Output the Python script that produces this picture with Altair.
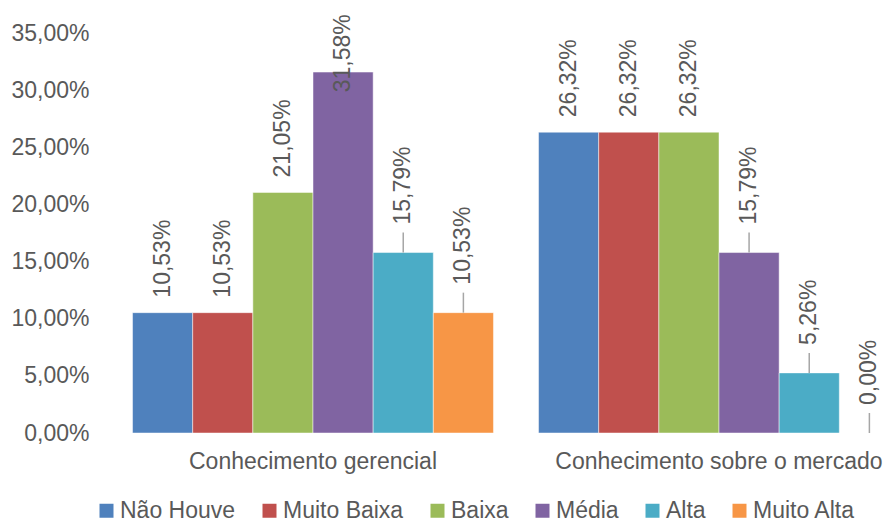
import altair as alt
import pandas as pd

# Survey results: share of respondents per level, for two knowledge areas
grupos = ["Conhecimento gerencial", "Conhecimento sobre o mercado"]
niveis = ["Não Houve", "Muito Baixa", "Baixa", "Média", "Alta", "Muito Alta"]
gerencial = [0.1053, 0.1053, 0.2105, 0.3158, 0.1579, 0.1053]
mercado = [0.2632, 0.2632, 0.2632, 0.1579, 0.0526, 0.0000]
cores = ["#4F81BD", "#C0504D", "#9BBB59", "#8064A2", "#4BACC6", "#F79646"]
y_ticks = [0.0, 0.05, 0.10, 0.15, 0.20, 0.25, 0.30, 0.35]

rows = []
for grupo, valores in zip(grupos, [gerencial, mercado]):
    for i, (nivel, v) in enumerate(zip(niveis, valores)):
        rows.append({"grupo": grupo, "nivel": nivel, "ordem": i, "valor": v})
df = pd.DataFrame(rows)

FONT = "Liberation Sans"
FS = 23
GRAY = "#595959"
PLOT_W = 783
PLOT_H = 400
BAND_RANGE = 812  # the category band runs a little past the right edge

x_enc = alt.X(
    "grupo:N",
    sort=grupos,
    scale=alt.Scale(range=[0, BAND_RANGE], paddingInner=0.111, paddingOuter=0.0555),
    axis=alt.Axis(
        title=None, labelAngle=0, domain=False, ticks=False, grid=False, labelFont=FONT,
        labelFontSize=FS, labelColor=GRAY, labelPadding=17, labelLimit=1000,
    ),
)
xoff_enc = alt.XOffset("nivel:N", sort=niveis, scale=alt.Scale(paddingInner=0, paddingOuter=0))
y_scale = alt.Scale(domain=[0, 0.35], nice=False)

base = alt.Chart(df).transform_window(
    anterior="lag(valor)", groupby=["grupo"], sort=[alt.SortField("ordem")]
).transform_calculate(
    rotulo="replace(format(datum.valor, '.2%'), '.', ',')",
    guia="isValid(datum.anterior) && datum.valor < datum.anterior",
    # keep tall labels from running off the top edge
    pos="min(datum.valor, 0.285)",
    guia_fim="datum.valor + 0.0175",
)

bars = base.mark_bar(stroke="white", strokeWidth=0.8, strokeOpacity=0.6).encode(
    x=x_enc,
    xOffset=xoff_enc,
    y=alt.Y(
        "valor:Q",
        scale=y_scale,
        axis=alt.Axis(
            title=None, values=y_ticks, grid=False, domain=False, ticks=False,
            labelExpr="replace(format(datum.value, '.2%'), '.', ',')",
            labelFont=FONT, labelFontSize=FS, labelColor=GRAY, labelPadding=21,
        ),
    ),
    color=alt.Color(
        "nivel:N",
        sort=niveis,
        scale=alt.Scale(domain=niveis, range=cores),
        legend=alt.Legend(
            title=None, orient="none", direction="horizontal", legendX=-15, legendY=466,
            symbolType="square", symbolSize=196, symbolStrokeWidth=0,
            labelFont=FONT, labelFontSize=FS, labelColor=GRAY, labelOffset=2,
            columnPadding=22, labelLimit=400,
        ),
    ),
)

labels_plain = base.transform_filter("!datum.guia").mark_text(
    angle=270, align="left", baseline="middle", dx=15, xOffset=2,
    font=FONT, fontSize=FS, color=GRAY,
).encode(x=x_enc, xOffset=xoff_enc, y=alt.Y("pos:Q", scale=y_scale), text="rotulo:N")

labels_lead = base.transform_filter("datum.guia").mark_text(
    angle=270, align="left", baseline="middle", dx=28, xOffset=4,
    font=FONT, fontSize=FS, color=GRAY,
).encode(x=x_enc, xOffset=xoff_enc, y=alt.Y("pos:Q", scale=y_scale), text="rotulo:N")

leaders = base.transform_filter("datum.guia").mark_rule(
    color="#A6A6A6", strokeWidth=1.5, xOffset=1.5,
).encode(x=x_enc, xOffset=xoff_enc, y=alt.Y("valor:Q", scale=y_scale), y2="guia_fim:Q")

chart = alt.layer(bars, leaders, labels_plain, labels_lead).properties(
    width=PLOT_W,
    height=PLOT_H,
    background="white",
    autosize=alt.AutoSizeParams(type="none"),
    padding={"left": 110, "top": 33, "right": 0, "bottom": 91},
).configure_view(stroke="transparent", strokeWidth=0).configure_axis(grid=False)

chart.save("out.html", embed_options={"renderer": "svg", "actions": False})
